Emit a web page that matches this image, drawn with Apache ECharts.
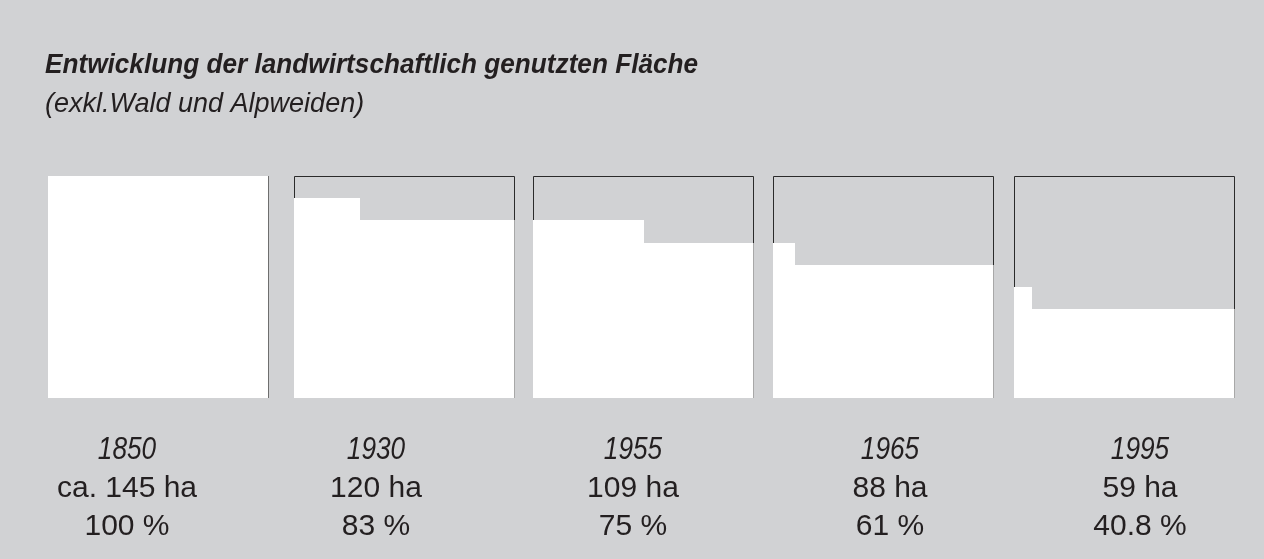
<!DOCTYPE html>
<html>
<head>
<meta charset="utf-8">
<script src="https://cdn.jsdelivr.net/npm/echarts@6/dist/echarts.min.js"></script>
<style>
html,body{margin:0;padding:0;background:#d1d2d4;}
#main{width:1264px;height:559px;}
</style>
</head>
<body>
<div id="main"></div>
<script>
// ---- data ----
const titleText = 'Entwicklung der landwirtschaftlich genutzten Fläche';
const subtitleText = '(exkl.Wald und Alpweiden)';
const years = ['1850', '1930', '1955', '1965', '1995'];
const areas = ['ca. 145 ha', '120 ha', '109 ha', '88 ha', '59 ha'];
const shares = ['100 %', '83 %', '75 %', '61 %', '40.8 %'];
// white (still used) area in each square, as fractions of the square
const stepWidth  = [0, 0.30, 0.50, 0.10, 0.08];   // width of the small left step
const stepHeight = [1, 0.90, 0.80, 0.70, 0.50];   // height of the small left step
const mainHeight = [1, 0.80, 0.70, 0.60, 0.40];   // height of the main block

// ---- layout ----
const panelLeft = [48, 294, 533, 773, 1014];
const panelTop = 176, panelW = 221, panelH = 222;
const labelCenter = [127, 376, 633, 890, 1140];
const ink = '#231f20';

const grids = [], xAxes = [], yAxes = [], series = [];
years.forEach((y, i) => {
  grids.push({left: panelLeft[i], top: panelTop, width: panelW, height: panelH, show: false});
  xAxes.push({type: 'value', gridIndex: i, min: 0, max: 1, show: false});
  yAxes.push({type: 'value', gridIndex: i, min: 0, max: 1, show: false});
  series.push({
    type: 'custom', xAxisIndex: i, yAxisIndex: i, silent: true,
    data: [[stepWidth[i], stepHeight[i], mainHeight[i]]],
    renderItem: function (params, api) {
      const sw = api.value(0), sh = api.value(1), mh = api.value(2);
      const P = (x, yv) => { const c = api.coord([x, yv]); return [Math.round(c[0]), Math.round(c[1])]; };
      const b0 = P(0, 0), s0 = P(0, sh), s1 = P(sw, sh), m0 = P(sw, mh), m1 = P(1, mh), b1 = P(1, 0);
      const t0 = P(0, 1), t1 = P(1, 1);
      return {type: 'group', children: [
        {type: 'polyline', shape: {points: [[s0[0] + 0.5, s0[1]], [t0[0] + 0.5, t0[1] + 0.5], [t1[0] - 0.5, t1[1] + 0.5], [m1[0] - 0.5, m1[1]]]},
          style: {stroke: '#2b2b2b', lineWidth: 1, fill: null}},
        {type: 'polygon', shape: {points: [b0, s0, s1, m0, m1, b1]}, style: {fill: '#ffffff'}},
        {type: 'line', shape: {x1: m1[0] - 0.5, y1: m1[1], x2: b1[0] - 0.5, y2: b1[1]},
          style: {stroke: i === 0 ? '#6e6e6e' : '#a8a8a8', lineWidth: 1}}
      ]};
    }
  });
});

const graphics = [
  {type: 'text', x: 45, y: 65.3, scaleX: 0.935, style: {text: titleText, font: 'italic bold 28px "Liberation Sans", Arial, sans-serif', fill: ink, textVerticalAlign: 'middle'}},
  {type: 'text', x: 45, y: 104.9, style: {text: subtitleText, font: 'italic 27px "Liberation Sans", Arial, sans-serif', fill: ink, textVerticalAlign: 'middle'}}
];
years.forEach((y, i) => {
  graphics.push({type: 'text', x: labelCenter[i], y: 450, scaleX: 0.82,
    style: {text: y, font: 'italic 32px "Liberation Sans", Arial, sans-serif', fill: ink, textAlign: 'center', textVerticalAlign: 'middle'}});
  graphics.push({type: 'text', x: labelCenter[i], y: 488.6,
    style: {text: areas[i], font: '30px "Liberation Sans", Arial, sans-serif', fill: ink, textAlign: 'center', textVerticalAlign: 'middle'}});
  graphics.push({type: 'text', x: labelCenter[i], y: 526.6,
    style: {text: shares[i], font: '30px "Liberation Sans", Arial, sans-serif', fill: ink, textAlign: 'center', textVerticalAlign: 'middle'}});
});

const chart = echarts.init(document.getElementById('main'), null, {renderer: 'canvas'});
chart.setOption({
  backgroundColor: '#d1d2d4',
  animation: false,
  grid: grids, xAxis: xAxes, yAxis: yAxes, series: series,
  graphic: graphics
});
</script>
</body>
</html>
